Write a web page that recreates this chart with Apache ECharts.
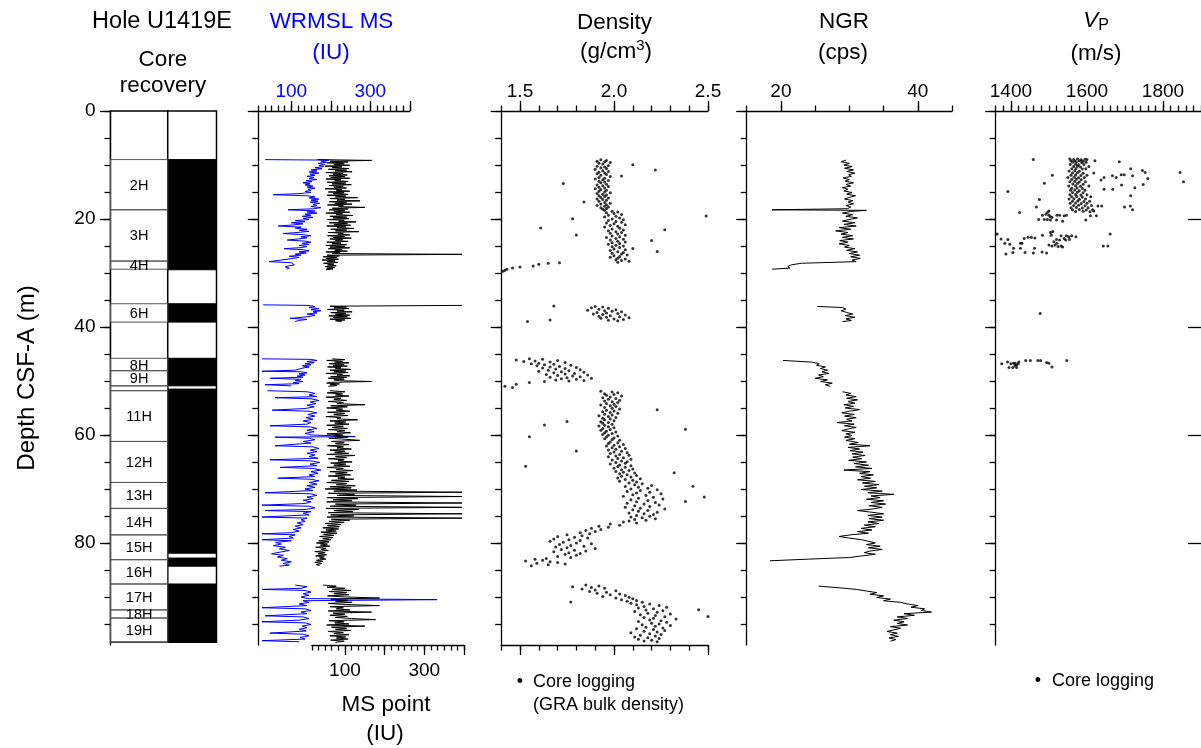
<!DOCTYPE html>
<html><head><meta charset="utf-8">
<script src="https://cdn.jsdelivr.net/npm/echarts@6.0.0/dist/echarts.min.js"></script>
<style>html,body{margin:0;padding:0;background:#fff}#c{width:1201px;height:748px}</style>
</head><body><div id="c"></div><script>
// ---------------- DATA ----------------
const DEPTH_MAX = 98.9;
const depthLabels = [0, 20, 40, 60, 80];
const holeBottom = 98.4;
// core name, top (m), bottom (m)
const cores = [['2H',9.0,18.3],['3H',18.3,27.8],['4H',27.8,29.3],['6H',35.7,39.1],['8H',45.8,48.1],['9H',48.1,50.9],['',50.9,51.8],['11H',51.8,61.2],['12H',61.2,68.8],['13H',68.8,73.6],['14H',73.6,78.5],['15H',78.5,83.1],['16H',83.1,87.6],['17H',87.6,92.4],['18H',92.4,93.9],['19H',93.9,98.4]];
// recovered intervals (top, bottom)
const recovered = [[9.0,29.4],[35.7,39.1],[45.8,50.9],[51.5,81.9],[82.8,84.3],[87.6,98.4]];

// MS point (IU): runs of [top depth (m), sample spacing (m), values]
const msPointRuns = [
[9.0, 0.15, [30,167,62,108,55,98,72,112,50,92, 68,110,58,104,75,118,52,95,70,106, 60,100,64,112,52,90,74,108,55,102, 68,116,60,96,72,104,50,92,78,112, 58,98,70,108,55,102,76,132,62,100, 80,138,60,104,74,118,56,96,84,150, 68,108,60,100,72,112,52,94,78,120, 62,104,70,110,56,98,84,128,60,106, 72,114,54,102,80,122,64,104,76,135, 58,96,82,112,56,100,70,116,62,94, 76,108,54,90,68,104,52,100,62,112, 58,92,74,106,52,88,68,395,55,86, 45,80,52,84,42,75,55,82,46,72, 56,78,50,74,54,70,52]],
[36.0, 0.15, [395,62,104,72,110,56,98,80,118,64,102,76,112,60,106,70,114,62,100,76,92]],
[45.9, 0.15, [68,100,54,94,74,110,60,98,70,106,56,90,76,114,62,102,72,108,52,94,80,112,64,104,58,98,72,86,167,62,54,86,62,80,58]],
[51.8, 0.2, [62,100,55,94,76,110,52,90,72,104, 58,96,80,150,64,106,54,94,78,112, 56,100,72,108,52,90,80,132,62,102, 74,110,54,96,68,106,58,100,80,114, 55,94,72,108,60,102,137,66,98,76, 110,56,96,80,116,62,100,74,110,54, 125,76,104,58,98,82,118,64,102,72, 112,55,96,78,120,62,106,76,114,58, 100,82,122,66,110,54,104,78,126,62, 116,50,130,72,395,58,124,80,395,55, 132,70,118,54,395,76,128,62,395,52, 134,72,120,58,395,64,122,55,395,66, 112,60,98,50,90,56,86,44,84,52, 78,40,80,46,72,36,70,44,65,34, 60,28,56,38,62,26,52,40,58,24, 50,32,54,26,48,36,52,28,44,24, 42,28,36]],
[87.8, 0.2, [45,78,55,100,68,115,60,104,72,110, 56,98,187,64,106,76,118,58,102,187, 62,96,78,112,58,167,70,100,62,106, 76,116,177,60,98,74,110,54,150,66, 104,76,114,58,96,72,110,62,102,78, 108,64,98,76]]
];

// WRMSL MS (IU), [depth, value]; null = gap between cores
const wrmsl = [
[9.0,34],[9.1,195],[9.3,175],[9.5,190],[9.7,168],[9.9,185],[10.1,170],[10.3,182],[10.5,160],[10.7,178],[10.9,150],[11.1,165],[11.3,145],[11.5,170],[11.7,148],[11.9,160],[12.1,140],[12.3,158],[12.5,145],[12.7,165],[12.9,138],[13.1,152],[13.3,130],[13.5,148],[13.7,135],[13.9,155],[14.1,140],[14.3,160],[14.5,142],[14.7,150],[14.9,135],[15.1,150],[15.3,120],[15.5,54],[15.7,140],[15.9,160],[16.1,145],[16.3,170],[16.5,150],[16.7,168],[16.9,148],[17.1,172],[17.3,155],[17.5,165],[17.7,150],[17.9,175],[18.1,158],[18.3,92],[18.5,160],[18.7,140],[18.9,165],[19.1,135],[19.3,150],[19.5,128],[19.7,155],[19.9,130],[20.1,145],[20.3,110],[20.5,135],[20.7,100],[20.9,130],[21.1,105],[21.3,67],[21.5,125],[21.7,110],[21.9,140],[22.1,120],[22.3,145],[22.5,115],[22.7,79],[22.9,130],[23.1,150],[23.3,125],[23.5,140],[23.7,118],[23.9,90],[24.1,135],[24.3,150],[24.5,128],[24.7,145],[24.9,120],[25.1,140],[25.3,125],[25.5,82],[25.7,130],[25.9,145],[26.1,120],[26.3,138],[26.5,110],[26.7,125],[26.9,95],[27.1,120],[27.3,105],[27.6,110],[27.9,44],[28.1,100],[28.3,95],[28.5,108],[28.7,92],[28.9,85],[29.1,95],[29.3,88],
null,
[35.9,29],[36.0,140],[36.2,160],[36.4,145],[36.6,170],[36.8,150],[37.0,175],[37.2,155],[37.4,165],[37.6,140],[37.8,160],[38.0,150],[38.2,130],[38.4,97],[38.6,140],[38.8,120],[39.0,110],
null,
[45.9,26],[46.0,150],[46.2,165],[46.4,140],[46.6,158],[46.8,135],[47.0,150],[47.2,128],[47.4,145],[47.6,130],[47.8,120],[48.0,110],[48.2,26],[48.3,125],[48.5,140],[48.7,120],[48.9,135],[49.1,115],[49.3,130],[49.5,47],[49.7,125],[49.9,110],[50.1,130],[50.3,105],[50.5,120],[50.7,34],[50.9,100],
null,
[51.8,40],[52.0,140],[52.3,160],[52.6,145],[52.9,165],[53.1,59],[53.3,150],[53.6,170],[53.9,148],[54.2,162],[54.5,140],[54.8,158],[55.1,135],[55.4,52],[55.6,145],[55.9,165],[56.2,142],[56.5,160],[56.8,138],[57.1,155],[57.4,130],[57.7,150],[58.0,140],[58.3,46],[58.5,148],[58.8,165],[59.1,140],[59.4,158],[59.7,135],[60.0,150],[60.3,262],[60.4,59],[60.6,145],[60.9,160],[61.2,130],[61.5,150],[61.8,145],[62.0,59],[62.2,155],[62.5,170],[62.8,148],[63.1,165],[63.4,140],[63.7,160],[64.0,145],[64.3,168],[64.6,46],[64.8,150],[65.1,172],[65.4,148],[65.7,165],[66.0,72],[66.2,155],[66.5,175],[66.8,150],[67.1,168],[67.4,145],[67.7,160],[68.0,66],[68.2,150],[68.5,170],[68.8,145],[69.1,165],[69.4,140],[69.7,160],[70.0,135],[70.3,155],[70.7,34],[70.9,150],[71.2,165],[71.5,140],[71.8,155],[72.1,130],[72.4,150],[72.7,135],[73.0,26],[73.2,145],[73.5,160],[73.8,138],[74.0,34],[74.2,150],[74.5,130],[74.8,145],[75.2,26],[75.4,140],[75.7,125],[76.0,135],[76.3,115],[76.6,130],[76.9,110],[77.2,125],[77.5,105],[77.8,120],[78.1,100],[78.3,26],[78.5,110],[78.8,95],[79.1,105],[79.4,26],[79.6,100],[79.9,60],[80.2,75],[80.5,55],[80.8,85],[81.1,70],[81.4,95],[81.7,72],[82.0,50],[82.3,80],[82.6,65],[82.9,90],[83.2,75],[83.5,100],[83.8,80],[84.1,95],[84.3,70],
null,
[87.8,110],[88.1,140],[88.4,125],[88.6,26],[88.8,135],[89.1,150],[89.4,130],[89.7,145],[90.0,125],[90.3,140],[90.5,469],[90.7,130],[91.0,145],[91.3,120],[91.6,140],[92.0,26],[92.2,135],[92.5,150],[92.8,125],[93.1,140],[93.5,34],[93.7,130],[94.0,145],[94.3,120],[94.6,26],[94.8,135],[95.1,150],[95.4,128],[95.7,140],[96.0,120],[96.3,138],[96.7,46],[96.9,130],[97.2,145],[97.5,122],[97.8,135],[98.1,26],[98.3,120]
];

// GRA bulk density (g/cm3), [depth, value]
const density = [
[9.05,1.93],[9.15,1.96],[9.3,1.91],[9.42,1.95],[9.55,1.98],[9.7,1.92],[9.83,1.94],[9.95,2.10],[10.1,1.97],[10.22,1.91],[10.38,1.95],[10.5,1.93],[10.65,1.96],[10.8,1.90],[10.95,2.22],[11.05,1.94],[11.2,1.97],[11.35,1.92],[11.5,1.95],[11.62,1.91],[11.78,1.96],[11.9,1.93],[12.05,2.04],[12.15,1.98],[12.3,1.92],[12.45,1.95],[12.6,1.90],[12.72,1.94],[12.88,1.97],[13.0,1.92],[13.15,1.95],[13.3,1.93],[13.45,1.73],[13.55,1.96],[13.7,1.91],[13.85,1.94],[14.0,1.97],[14.12,1.92],[14.28,1.95],[14.4,1.90],[14.55,1.93],[14.7,1.96],[14.85,1.92],[15.0,1.95],[15.15,1.98],[15.3,1.91],[15.42,1.94],[15.58,1.96],[15.7,1.92],[15.85,1.95],[16.0,1.93],[16.12,1.97],[16.28,1.91],[16.4,1.94],[16.55,1.96],[16.7,1.92],[16.85,1.84],[16.95,1.95],[17.1,1.98],[17.22,1.93],[17.38,1.96],[17.5,1.91],[17.65,1.95],[17.8,1.97],[17.92,1.93],[18.08,1.96],[18.2,1.94],
[18.4,1.95],[18.55,1.99],[18.7,2.02],[18.85,1.96],[19.0,2.00],[19.15,2.04],[19.3,1.97],[19.45,2.49],[19.5,2.01],[19.65,1.95],[19.8,2.03],[19.95,1.78],[20.0,1.99],[20.15,2.05],[20.3,1.97],[20.45,2.01],[20.6,2.04],[20.75,1.96],[20.9,2.00],[21.05,2.06],[21.2,1.98],[21.35,2.02],[21.5,1.95],[21.65,1.61],[21.7,2.03],[21.85,1.99],[22.0,2.27],[22.05,2.05],[22.2,1.97],[22.35,2.01],[22.5,2.04],[22.65,1.98],[22.8,2.02],[22.95,1.80],[23.0,2.06],[23.15,1.99],[23.3,2.03],[23.45,1.96],[23.6,2.01],[23.75,2.05],[23.9,1.98],[24.0,2.20],[24.1,2.02],[24.25,2.06],[24.4,1.99],[24.55,2.03],[24.7,1.97],[24.85,2.01],[25.0,2.05],[25.15,1.99],[25.3,2.03],[25.45,2.10],[25.55,2.00],[25.7,2.06],[25.85,1.98],[26.0,2.23],[26.05,2.02],[26.2,2.05],[26.35,1.99],[26.5,2.04],[26.65,2.07],[26.8,2.00],[26.95,2.03],[27.1,1.98],[27.25,2.02],[27.4,2.06],[27.55,2.01],[27.7,2.04],
[27.85,2.08],[28.0,2.02],[28.1,1.71],[28.2,1.65],[28.4,1.60],[28.7,1.57],[28.9,1.50],[29.1,1.46],[29.3,1.43],[29.5,1.42],[29.7,1.41],
[36.1,1.68],[36.2,1.90],[36.3,1.94],[36.45,1.88],[36.55,1.97],[36.7,1.92],[36.8,2.01],[36.9,1.86],[37.0,1.95],[37.1,1.99],[37.2,2.04],[37.3,1.91],[37.4,1.96],[37.5,2.02],[37.6,1.89],[37.7,1.94],[37.8,2.06],[37.9,1.98],[38.0,1.92],[38.1,2.03],[38.2,1.96],[38.3,2.08],[38.4,1.93],[38.5,2.00],[38.6,2.05],[38.7,1.66],[38.75,1.97],[38.85,2.02],[39.0,1.54],
[45.9,1.55],[46.0,1.62],[46.1,1.48],[46.2,1.70],[46.3,1.58],[46.4,1.52],[46.5,1.66],[46.6,1.74],[46.7,1.60],[46.8,1.56],[46.9,1.68],[47.0,1.63],[47.1,1.77],[47.2,1.59],[47.3,1.71],[47.4,1.66],[47.5,1.80],[47.6,1.62],[47.7,1.74],[47.8,1.69],[47.9,1.82],[48.0,1.65],[48.1,1.76],[48.2,1.60],[48.3,1.72],[48.4,1.84],[48.5,1.68],[48.6,1.79],[48.7,1.74],[48.8,1.64],[48.9,1.86],[49.0,1.70],[49.1,1.78],[49.2,1.82],[49.3,1.66],[49.4,1.75],[49.5,1.88],[49.6,1.72],[49.7,1.80],[49.8,1.69],[49.9,1.84],[50.0,1.76],[50.1,1.63],[50.3,1.55],[50.6,1.48],[51.0,1.42],[51.2,1.46],
[51.9,1.93],[52.05,1.99],[52.2,2.02],[52.35,1.95],[52.5,2.00],[52.65,1.96],[52.8,2.04],[52.95,1.98],[53.1,1.94],[53.25,2.01],[53.4,1.97],[53.55,2.03],[53.7,1.95],[53.85,1.99],[54.0,2.02],[54.15,1.96],[54.3,2.00],[54.45,1.93],[54.6,1.98],[54.75,2.01],[54.9,1.95],[55.05,1.99],[55.2,2.03],[55.35,2.23],[55.4,1.96],[55.55,2.00],[55.7,1.94],[55.85,1.98],[56.0,2.02],[56.15,1.95],[56.3,1.99],[56.45,1.92],[56.6,1.97],[56.75,2.01],[56.9,1.94],[57.05,1.98],[57.2,1.95],[57.35,2.00],[57.5,1.75],[57.55,1.93],[57.7,1.97],[57.85,1.94],[58.0,1.99],[58.15,1.63],[58.2,1.95],[58.35,1.92],[58.5,1.97],[58.65,2.00],[58.8,1.94],[58.95,2.38],[59.0,1.98],[59.15,1.93],[59.3,1.96],[59.45,2.01],[59.6,1.95],[59.75,1.99],[59.9,1.94],[60.05,1.97],[60.2,2.02],[60.35,1.55],[60.4,1.96],[60.55,2.00],[60.7,1.95],[60.85,1.99],[61.0,2.03],
[61.3,1.98],[61.45,2.02],[61.6,1.97],[61.75,2.05],[61.9,2.00],[62.05,1.96],[62.2,2.03],[62.35,1.99],[62.5,2.06],[62.65,2.01],[62.8,1.97],[62.95,1.80],[63.0,2.04],[63.15,2.00],[63.3,2.07],[63.45,1.98],[63.6,2.03],[63.75,2.08],[63.9,2.01],[64.05,1.97],[64.2,2.05],[64.35,2.02],[64.5,2.09],[64.65,1.99],[64.8,2.04],[64.95,2.07],[65.1,2.01],[65.25,2.06],[65.4,1.98],[65.55,2.03],[65.7,2.09],[65.8,1.53],[65.85,2.02],[66.0,2.06],[66.15,2.00],[66.3,2.10],[66.45,2.04],[66.6,2.08],[66.75,2.01],[66.9,2.05],[67.0,2.32],[67.05,2.11],[67.2,2.03],[67.35,2.07],[67.5,2.12],[67.65,2.04],[67.8,2.09],[67.95,2.02],[68.1,2.14],[68.25,2.06],[68.4,2.10],[68.55,2.03],[68.7,2.12],
[68.9,2.08],[69.05,2.15],[69.2,2.11],[69.35,2.20],[69.5,2.42],[69.55,2.06],[69.7,2.13],[69.85,2.18],[70.0,2.09],[70.15,2.23],[70.3,2.14],[70.45,2.07],[70.6,2.19],[70.75,2.12],[70.9,2.25],[71.05,2.10],[71.2,2.17],[71.35,2.05],[71.5,2.48],[71.55,2.21],[71.7,2.13],[71.85,2.26],[72.0,2.09],[72.15,2.18],[72.3,2.38],[72.35,2.12],[72.5,2.22],[72.65,2.07],[72.8,2.16],[72.95,2.24],[73.1,2.11],[73.25,2.19],[73.4,2.06],[73.55,2.14],[73.7,2.27],[73.85,2.10],[74.0,2.18],[74.15,2.13],[74.3,2.23],[74.45,2.08],[74.6,2.16],[74.75,2.21],[74.9,2.12],[75.05,2.19],[75.2,2.09],[75.35,2.15],[75.5,2.22],[75.65,2.11],[75.8,2.17],[75.95,2.08],[76.1,2.05],[76.3,2.12],[76.5,1.98],[76.7,2.03],[76.9,1.92],[77.1,1.97],[77.3,1.88],[77.5,1.93],[77.7,1.85],[77.9,1.90],[78.1,1.82],[78.3,1.87],
[78.5,1.75],[78.65,1.83],[78.8,1.70],[78.95,1.79],[79.1,1.86],[79.25,1.68],[79.4,1.76],[79.55,1.82],[79.7,1.66],[79.85,1.73],[80.0,1.80],[80.15,1.88],[80.3,1.71],[80.45,1.77],[80.6,1.84],[80.75,1.69],[80.9,1.75],[81.05,1.90],[81.2,1.72],[81.35,1.79],[81.5,1.85],[81.65,1.68],[81.8,1.76],[81.95,1.82],[82.1,1.74],[82.3,1.80],[82.5,1.70],[82.7,1.77],[82.9,1.64],
[83.0,1.58],[83.2,1.62],[83.35,1.53],[83.5,1.66],[83.6,1.70],[83.75,1.59],[83.9,1.74],[84.05,1.65],[84.2,1.56],
[87.8,1.85],[87.95,1.92],[88.1,1.78],[88.25,1.88],[88.4,1.95],[88.55,1.83],[88.7,1.90],[88.85,2.01],[89.0,1.87],[89.15,1.96],[89.3,1.91],[89.45,2.03],[89.6,1.98],[89.75,2.06],[89.9,1.94],[90.05,2.08],[90.2,2.01],[90.35,2.10],[90.5,2.04],[90.65,2.12],[90.8,2.07],[90.95,1.77],[91.0,2.15],[91.15,2.09],[91.3,2.19],[91.45,2.12],[91.6,2.24],[91.75,2.16],[91.9,2.28],[92.05,2.13],[92.2,2.21],[92.35,2.45],[92.4,2.17],[92.55,2.26],[92.7,2.11],[92.85,2.23],[93.0,2.18],[93.15,2.30],[93.3,2.14],[93.45,2.22],[93.6,2.50],[93.65,2.27],[93.8,2.16],[93.95,2.21],[94.1,2.33],[94.25,2.19],[94.4,2.25],[94.55,2.13],[94.7,2.28],[94.85,2.20],[95.0,2.24],[95.15,2.15],[95.3,2.30],[95.45,2.22],[95.6,2.17],[95.75,2.26],[95.9,2.12],[96.05,2.21],[96.2,2.27],[96.35,2.16],[96.5,2.23],[96.65,2.09],[96.8,2.19],[96.95,2.25],[97.1,2.14],[97.25,2.22],[97.4,2.11],[97.55,2.18],[97.7,2.24],[97.85,2.13],[98.0,2.20],[98.15,2.16],[98.3,2.23]
];

// NGR (cps), [depth, value]; null = gap between cores
const ngr = [
[9.1,29.5],[9.4,28.8],[9.7,30.0],[10.0,29.2],[10.3,30.4],[10.6,29.3],[10.9,30.6],[11.2,29.6],[11.5,30.8],[11.8,29.9],[12.1,30.3],[12.4,29.1],[12.7,30.0],[13.0,29.4],[13.3,30.6],[13.6,29.5],[13.9,30.2],[14.2,29.0],[14.5,29.8],[14.8,29.2],[15.1,30.4],[15.4,29.6],[15.7,30.9],[16.0,30.0],[16.3,29.3],[16.6,30.5],[16.9,29.8],[17.2,30.6],[17.5,29.5],[17.8,30.2],[18.1,29.7],[18.3,18.7],[18.4,32.5],[18.6,30.2],[18.9,29.0],[19.2,30.5],[19.5,29.5],[19.8,31.2],[20.1,30.0],[20.4,29.0],[20.7,30.8],[21.0,29.2],[21.3,31.0],[21.6,28.5],[21.9,30.2],[22.2,28.0],[22.5,29.8],[22.8,28.8],[23.1,30.5],[23.4,29.0],[23.7,30.6],[24.0,28.6],[24.3,29.8],[24.6,28.5],[24.9,30.0],[25.2,29.3],[25.5,30.8],[25.8,29.6],[26.1,31.2],[26.4,30.0],[26.7,31.5],[27.0,30.2],[27.3,31.6],[27.6,30.4],[27.9,31.0],[28.2,23.0],[28.5,21.5],[28.8,21.0],[29.1,21.3],[29.3,18.7],
null,
[36.2,25.3],[36.4,29.0],[36.7,29.5],[37.0,28.8],[37.3,29.6],[37.6,30.5],[37.9,29.4],[38.2,30.8],[38.5,29.5],[38.8,30.3],[39.0,29.0],
null,
[46.2,20.3],[46.5,24.5],[46.8,25.6],[47.1,25.2],[47.4,26.5],[47.7,25.8],[48.0,26.8],[48.3,26.0],[48.6,27.0],[48.9,25.5],[49.2,26.2],[49.5,25.0],[49.8,26.8],[50.1,25.8],[50.4,27.5],[50.7,26.5],[51.0,27.2],
null,
[52.0,29.0],[52.3,30.2],[52.6,29.5],[52.9,31.0],[53.2,29.6],[53.5,31.2],[53.8,29.8],[54.1,30.8],[54.4,29.2],[54.7,30.6],[55.0,29.4],[55.3,31.5],[55.6,30.0],[55.9,28.9],[56.2,30.7],[56.5,29.3],[56.8,31.0],[57.1,29.6],[57.4,30.4],[57.7,28.2],[58.0,30.7],[58.3,29.3],[58.6,31.0],[58.9,29.8],[59.2,28.9],[59.5,30.8],[59.8,29.5],[60.1,30.4],[60.4,29.3],[60.7,30.8],[61.0,29.5],[61.4,31.3],[61.7,30.0],[62.0,33.0],[62.3,29.8],[62.6,31.5],[62.9,30.1],[63.2,32.0],[63.5,30.4],[63.8,32.3],[64.1,30.5],[64.4,31.8],[64.7,29.9],[65.0,32.5],[65.3,30.7],[65.6,32.8],[65.9,30.9],[66.2,33.3],[66.5,29.2],[66.8,33.0],[67.1,31.5],[67.4,33.5],[67.7,31.7],[68.0,33.1],[68.3,31.2],[68.6,33.8],[68.9,31.9],[69.2,34.3],[69.5,32.2],[69.8,34.0],[70.1,31.7],[70.4,34.8],[70.7,32.7],[71.0,36.5],[71.3,33.2],[71.6,34.5],[71.9,32.5],[72.2,35.0],[72.5,33.2],[72.8,35.3],[73.1,32.9],[73.4,34.8],[73.7,33.5],[74.0,31.2],[74.3,33.2],[74.6,35.0],[74.9,32.7],[75.2,34.8],[75.5,32.9],[75.8,35.0],[76.1,32.7],[76.4,34.3],[76.7,32.2],[77.0,33.8],[77.3,31.7],[77.6,33.3],[77.9,31.2],[78.2,32.8],[78.5,30.2],[78.8,28.5],[79.1,30.0],[79.4,31.8],[79.7,32.8],[80.0,33.8],[80.3,32.5],[80.6,34.5],[80.9,32.8],[81.2,34.8],[81.5,33.0],[81.8,32.2],[82.1,33.8],[82.4,31.8],[82.7,30.0],[83.0,24.0],[83.3,18.4],
null,
[88.0,25.5],[88.3,28.5],[88.6,31.0],[88.9,32.5],[89.2,34.0],[89.5,33.0],[89.8,35.0],[90.1,34.0],[90.4,36.0],[90.7,35.0],[91.0,37.5],[91.3,38.5],[91.6,40.0],[91.9,39.0],[92.2,41.0],[92.5,40.5],[92.8,42.0],[93.1,38.0],[93.4,39.5],[93.7,37.0],[94.0,38.5],[94.3,36.5],[94.6,38.0],[94.9,37.0],[95.2,38.5],[95.5,36.0],[95.8,37.5],[96.1,36.5],[96.4,35.5],[96.7,37.0],[97.0,36.0],[97.3,37.2],[97.6,35.8],[97.9,36.8],[98.2,36.0]
];

// Vp (m/s), [depth, value]
const vp = [
[8.9,1555],[8.9,1575],[8.95,1595],[9.0,1565],[9.05,1585],[9.0,1600],[9.2,1558],[9.25,1568],[9.2,1580],[9.3,1590],[9.5,1562],[9.45,1572],[9.55,1586],[9.5,1598],[9.9,1556],[9.85,1570],[9.95,1578],[9.9,1592],[10.3,1565],[10.25,1575],[10.35,1583],[10.3,1605],[10.7,1560],[10.65,1571],[10.75,1588],[10.7,1597],[11.1,1553],[11.05,1568],[11.15,1580],[11.5,1562],[11.45,1575],[11.55,1590],[11.9,1558],[11.85,1570],[11.95,1584],[11.9,1600],[12.3,1550],[12.25,1566],[12.35,1578],[12.3,1593],[12.7,1560],[12.65,1572],[12.75,1585],[13.1,1555],[13.05,1568],[13.15,1580],[13.1,1596],[13.5,1563],[13.45,1575],[13.55,1590],[13.9,1552],[13.85,1570],[13.95,1583],[13.9,1605],[14.3,1560],[14.25,1574],[14.35,1588],[14.7,1557],[14.65,1568],[14.75,1580],[14.7,1595],[15.1,1562],[15.05,1575],[15.15,1590],[15.5,1555],[15.45,1570],[15.55,1584],[15.5,1600],[15.9,1560],[15.85,1573],[15.95,1588],[15.9,1610],[16.3,1553],[16.25,1566],[16.35,1580],[16.3,1596],[16.7,1562],[16.65,1576],[16.75,1592],[16.7,1607],[17.1,1556],[17.05,1570],[17.15,1585],[17.1,1600],[17.5,1565],[17.45,1578],[17.55,1595],[17.5,1612],[17.9,1558],[17.85,1572],[17.95,1588],[17.9,1603],[18.3,1562],[18.25,1580],[18.35,1598],[18.3,1615],[18.6,1570],[18.55,1590],[18.65,1608],
[9.2,1621],[9.4,1685],[11.5,1618],[12.3,1645],[12.0,1667],[12.3,1677],[11.8,1690],[11.8,1698],[10.7,1715],[12.0,1720],[11.0,1746],[11.4,1753],[12.5,1760],[13.6,1748],[14.2,1726],[15.7,1715],[17.6,1714],[18.3,1720],[17.8,1699],[13.7,1691],[14.5,1668],[14.5,1645],[12.8,1637],[17.6,1629],[17.6,1639],[19.4,1625],[18.5,1618],[19.4,1609],[20.2,1597],[11.4,1845],[13.1,1854],[22.8,1661],[25.0,1643],[25.0,1655],
[9.0,1459],[11.9,1509],[13.4,1488],[14.9,1392],[16.4,1475],[17.8,1467],[18.8,1423],
[19.3,1483],[19.1,1492],[19.3,1500],[19.7,1508],[20.1,1488],[20.1,1496],[20.2,1504],[20.2,1520],[20.4,1536],[20.1,1473],[19.3,1521],[19.3,1528],[19.4,1540],[19.3,1546],[18.5,1500],[18.8,1496],[19.6,1504],
[22.8,1364],[23.7,1374],[24.5,1384],[23.8,1392],[24.7,1397],[25.4,1407],[26.5,1387],[26.2,1405],[25.4,1425],[24.5,1425],[24.5,1429],[23.6,1435],[23.4,1445],[23.4,1454],[23.5,1463],[25.4,1462],[26.2,1437],[26.3,1459],[26.1,1482],[26.3,1494],[23.0,1483],[22.5,1504],[22.3,1510],[23.0,1506],[24.8,1500],[25.0,1508],[24.8,1516],[25.1,1524],[25.0,1532],[25.2,1536],[23.8,1520],[23.9,1528],[23.6,1540],[23.1,1546],[23.3,1552],[23.1,1532],[23.1,1560],[23.3,1571],[23.8,1554],[23.9,1544],[24.5,1521],[24.2,1513],
[37.5,1477],
[46.8,1376],[46.5,1391],[47.5,1395],[46.8,1400],[47.5,1405],[46.7,1407],[47.2,1411],[47.5,1415],[46.8,1419],[46.5,1421],[46.2,1439],[46.2,1451],[46.2,1471],[46.2,1478],[46.6,1494],[46.7,1500],[47.4,1508],[46.2,1547],[46.7,1411],[47.0,1415]
];

// axis tick values / labels
const msTickStep = 100 / 6;
const msMajor = [100, 200, 300, 400], msLabels = [100, 300];
const densMajor = [1.5, 2.0, 2.5];
const ngrMajor = [20, 40];
const vpMajor = [1400, 1600, 1800];

// ---------------- CHART ----------------
const FONT = '"Liberation Sans", Arial, Helvetica, sans-serif';
const BLUE = '#0000ff';
function range(a, b, s) { const r = []; for (let i = 0; a + i * s <= b + 1e-9; i++) r.push(+(a + i * s).toFixed(6)); return r; }
function segments(arr) { const out = [[]]; arr.forEach(p => { if (p === null) out.push([]); else out[out.length - 1].push([p[1], p[0]]); }); return out.filter(s => s.length); }
function runToPoints(run) { return run[2].map((v, i) => [v, +(run[0] + i * run[1]).toFixed(3)]); }

const T = 111, H = 534;
const MS_PX_PER_IU = 151.5 / (400 - msTickStep);
const grids = [
  { left: 110.5, width: 106 },     // 0 core column
  { left: 258.3, width: 151.5 },   // 1 WRMSL top axis
  { left: 311.9, width: 152.1 },   // 2 MS point (bottom axis)
  { left: 501.2, width: 206.8 },   // 3 density
  { left: 746.7, width: 205.3 },   // 4 NGR
  { left: 995.7, width: 222.75 },  // 5 Vp
  { left: 1203, width: 60 },       // 6 next (cropped) panel depth axis
  { left: 258.3, width: (500 - msTickStep) * MS_PX_PER_IU } // 7 WRMSL data area (same scale, wider)
].map(g => Object.assign({ top: T, height: H }, g));

const xAxes = [], yAxes = [];
const lineSt = { color: '#000', width: 1.3 };
function addX(o) { xAxes.push(Object.assign({ type: 'value', splitLine: { show: false } }, o)); return xAxes.length - 1; }
function addY(o) { yAxes.push(Object.assign({ type: 'value', min: 0, max: DEPTH_MAX, inverse: true, splitLine: { show: false } }, o)); return yAxes.length - 1; }

function xPair(gi, pos, min, max, minorTicks, majorTicks, labels, fmt, color) {
  const base = addX({ gridIndex: gi, position: pos, min, max,
    axisLine: { show: true, onZero: false, lineStyle: lineSt },
    axisTick: { show: true, customValues: minorTicks, length: 5.5, lineStyle: lineSt },
    axisLabel: { show: false } });
  addX({ gridIndex: gi, position: pos, min, max,
    axisLine: { show: false, onZero: false },
    axisTick: { show: true, customValues: majorTicks, length: 10, lineStyle: lineSt },
    axisLabel: labels ? { show: true, customValues: labels, formatter: fmt, color: color || '#000', fontSize: 19, fontFamily: FONT, margin: pos === 'top' ? 10 : 16 } : { show: false } });
  return base;
}
const depthMinor = range(0, 95, 5);
function yPair(gi, withLabels) {
  const base = addY({ gridIndex: gi, position: 'left',
    axisLine: { show: true, onZero: false, lineStyle: lineSt },
    axisTick: { show: true, customValues: depthMinor, length: 6, lineStyle: lineSt },
    axisLabel: { show: false } });
  addY({ gridIndex: gi, position: 'left',
    axisLine: { show: false, onZero: false },
    axisTick: { show: true, customValues: depthLabels, length: 10.5, lineStyle: lineSt },
    axisLabel: withLabels ? { show: true, customValues: depthLabels, color: '#000', fontSize: 19, fontFamily: FONT, margin: 15 } : { show: false } });
  return base;
}
function hiddenY(gi) { return addY({ gridIndex: gi, show: false }); }

// core column: left part = core boxes, right part = recovery
const CORE_SPLIT = 0.54;
const xCore = addX({ gridIndex: 0, min: 0, max: 1, show: false });
const yCore = yPair(0, true);
// MS
const msTicks = range(msTickStep, 400, msTickStep);
xPair(1, 'top', msTickStep, 400, msTicks, msMajor, msLabels, v => String(Math.round(v)), BLUE);
yPair(1, false);
const xBlue = addX({ gridIndex: 7, min: msTickStep, max: 500, show: false });
const yBlue = hiddenY(7);
const xBlack = xPair(2, 'bottom', msTickStep, 400, msTicks, msMajor, msLabels, v => String(Math.round(v)), '#000');
const yBlack = hiddenY(2);
// density
const densTicks = range(1.4, 2.5, 0.1);
const xDens = xPair(3, 'top', 1.4, 2.5, densTicks, densMajor, densMajor, v => v.toFixed(1), '#000');
xPair(3, 'bottom', 1.4, 2.5, densTicks, densMajor, null);
const yDens = yPair(3, false);
// NGR
const xNgr = xPair(4, 'top', 15, 45, range(15, 45, 5), ngrMajor, ngrMajor, v => String(v), '#000');
const yNgr = yPair(4, false);
// Vp
const xVp = xPair(5, 'top', 1360, 1900, range(1360, 1900, 20), vpMajor, vpMajor, v => String(v), '#000');
const yVp = yPair(5, false);
// cropped next panel: only its long depth ticks reach into view
addX({ gridIndex: 6, min: 0, max: 1, show: false });
addY({ gridIndex: 6, position: 'left', axisLine: { show: false, onZero: false },
  axisTick: { show: true, customValues: depthLabels.slice(1), length: 15, lineStyle: lineSt }, axisLabel: { show: false } });

function rectItem(api, x0, x1, y0, y1, style) {
  const a = api.coord([x0, y0]), b = api.coord([x1, y1]);
  return { type: 'rect', shape: { x: a[0], y: a[1], width: b[0] - a[0], height: b[1] - a[1] }, style };
}
const series = [];
series.push({ type: 'custom', xAxisIndex: xCore, yAxisIndex: yCore, silent: true, z: 1,
  data: [[0, CORE_SPLIT, 0, holeBottom], [CORE_SPLIT, 1, 0, holeBottom]],
  renderItem: (p, api) => rectItem(api, api.value(0), api.value(1), api.value(2), api.value(3), { fill: '#fff', stroke: '#000', lineWidth: 1.5 }) });
series.push({ type: 'custom', xAxisIndex: xCore, yAxisIndex: yCore, silent: true, z: 2,
  data: recovered.map(r => [CORE_SPLIT, 1, r[0], r[1]]),
  renderItem: (p, api) => rectItem(api, CORE_SPLIT, 1, api.value(2), api.value(3), { fill: '#000', stroke: '#000', lineWidth: 1 }) });
series.push({ type: 'custom', xAxisIndex: xCore, yAxisIndex: yCore, silent: true, z: 3,
  data: cores.map(c => [0, CORE_SPLIT, c[1], c[2]]),
  renderItem: (p, api) => {
    const r = rectItem(api, 0, CORE_SPLIT, api.value(2), api.value(3), { fill: 'none', stroke: '#555', lineWidth: 1 });
    const c = api.coord([CORE_SPLIT / 2, (api.value(2) + api.value(3)) / 2]);
    return { type: 'group', children: [r, { type: 'text', style: { text: cores[p.dataIndex][0], x: c[0], y: c[1] + 1, textAlign: 'center', textVerticalAlign: 'middle', align: 'center', verticalAlign: 'middle', font: '14.5px ' + FONT, fill: '#000' } }] };
  } });
segments(wrmsl).forEach(s => series.push({ type: 'line', xAxisIndex: xBlue, yAxisIndex: yBlue, data: s, symbol: 'none', silent: true, z: 3, lineStyle: { color: BLUE, width: 1 } }));
msPointRuns.forEach(r => series.push({ type: 'line', xAxisIndex: xBlack, yAxisIndex: yBlack, data: runToPoints(r), symbol: 'none', clip: false, silent: true, z: 4, lineStyle: { color: '#000', width: 1 } }));
series.push({ type: 'scatter', xAxisIndex: xDens, yAxisIndex: yDens, data: density.map(p => [p[1], p[0]]), symbol: 'circle', symbolSize: 3, silent: true, itemStyle: { color: '#000' } });
segments(ngr).forEach(s => series.push({ type: 'line', xAxisIndex: xNgr, yAxisIndex: yNgr, data: s, symbol: 'none', silent: true, lineStyle: { color: '#000', width: 1 } }));
series.push({ type: 'scatter', xAxisIndex: xVp, yAxisIndex: yVp, data: vp.map(p => [p[1], p[0]]), symbol: 'circle', symbolSize: 3, silent: true, itemStyle: { color: '#000' } });

function txt(text, x, y, extra) {
  return { type: 'text', x, y, silent: true, style: Object.assign({ text, font: '22.5px ' + FONT, fill: '#000', textAlign: 'center', textVerticalAlign: 'middle', align: 'center', verticalAlign: 'middle' }, extra || {}) };
}
const graphic = [
  txt('Hole U1419E', 162, 22, { font: '23.5px ' + FONT }),
  txt('Core', 163, 60), txt('recovery', 163, 86),
  txt('WRMSL MS', 331.5, 22, { fill: BLUE }), txt('(IU)', 331, 53, { fill: BLUE }),
  txt('Density', 614.5, 23),
  txt('{b|(g/cm}{s|3}{b|)}', 616, 52, { rich: { b: { fontSize: 22.5, fontFamily: FONT, lineHeight: 28 }, s: { fontSize: 15, fontFamily: FONT, verticalAlign: 'top', lineHeight: 15 } } }),
  txt('NGR', 844, 22), txt('(cps)', 843, 53),
  txt('{v|V}{s|P}', 1096, 21, { rich: { v: { fontSize: 22.5, fontStyle: 'italic', fontFamily: FONT, lineHeight: 26 }, s: { fontSize: 16, fontFamily: FONT, verticalAlign: 'bottom', lineHeight: 16 } } }),
  txt('(m/s)', 1096, 54),
  txt('MS point', 386, 705), txt('(IU)', 385, 734),
  txt('\u2022', 520, 682, { font: '18px ' + FONT }),
  txt('Core logging', 533, 682, { font: '18px ' + FONT, textAlign: 'left', align: 'left' }),
  txt('(GRA bulk density)', 533, 705, { font: '18px ' + FONT, textAlign: 'left', align: 'left' }),
  txt('\u2022', 1038, 681, { font: '18px ' + FONT }),
  txt('Core logging', 1052, 681, { font: '18px ' + FONT, textAlign: 'left', align: 'left' }),
  Object.assign(txt('Depth CSF-A (m)', 27, 378, { font: '24px ' + FONT }), { rotation: Math.PI / 2 })
];

const chart = echarts.init(document.getElementById('c'), null, { renderer: 'canvas' });
chart.setOption({ animation: false, backgroundColor: '#fff', grid: grids, xAxis: xAxes, yAxis: yAxes, series, graphic });
</script></body></html>
